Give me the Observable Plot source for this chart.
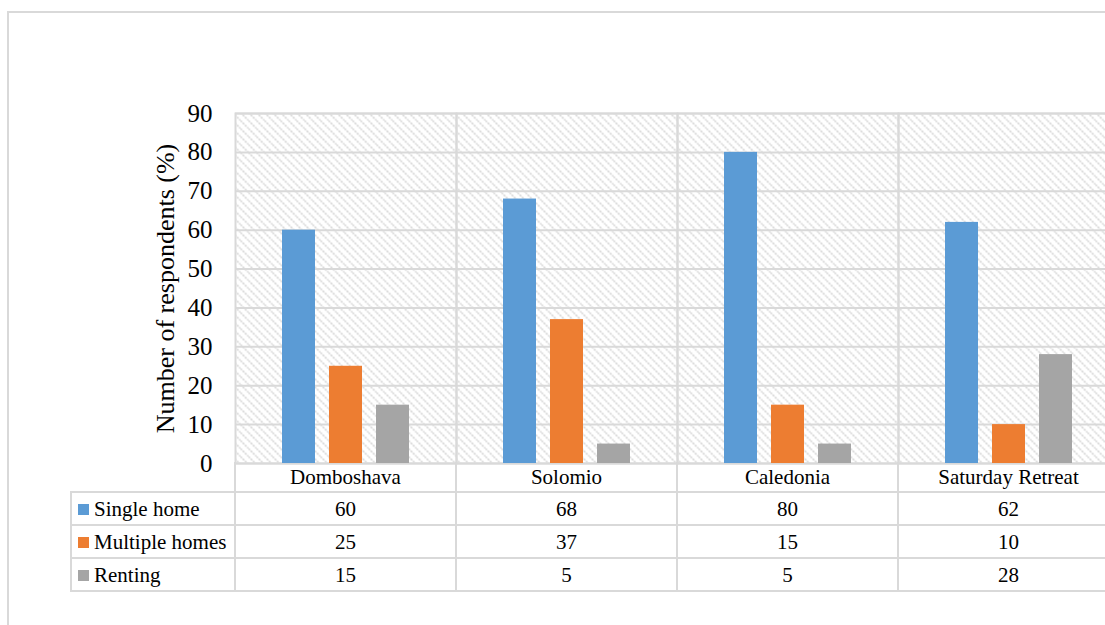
<!DOCTYPE html>
<html>
<head>
<meta charset="utf-8">
<script src="https://cdn.jsdelivr.net/npm/d3@7"></script>
<script src="https://cdn.jsdelivr.net/npm/@observablehq/plot@0.6"></script>
<style>
  html, body { margin: 0; padding: 0; background: #fff; overflow: hidden; width: 1105px; height: 625px; }
  #wrap { position: relative; width: 1105px; height: 625px; overflow: hidden; font-family: "Liberation Serif", "Times New Roman", serif; }
  #border { position: absolute; left: 7px; top: 11px; width: 1200px; height: 700px; border: 2px solid #d9d9d9; box-sizing: border-box; }
  #chart { position: absolute; left: 0; top: 0; }
  #chart svg { max-width: none !important; }
  table.dt { position: absolute; border-collapse: collapse; table-layout: fixed; font-family: "Liberation Serif", "Times New Roman", serif; font-size: 21px; color: #000; }
  table.dt td { border: 2px solid #d9d9d9; text-align: center; padding: 2px 0 0 0; white-space: nowrap; overflow: hidden; line-height: 1; }
  table.dt tr.head td { height: 27px; border-top: none; }
  table.dt tr.head td.corner { border-left: none; }
  table.dt tr.row td { height: 29px; }
  table.dt td.lab { text-align: left; padding-left: 6px; }
  .key { display: inline-block; width: 11px; height: 11px; margin-right: 5px; vertical-align: 1px; }
</style>
</head>
<body>
<div id="wrap">
  <div id="border"></div>
  <div id="chart"></div>
</div>
<script>
const categories = ["Domboshava", "Solomio", "Caledonia", "Saturday Retreat"];
const series = ["Single home", "Multiple homes", "Renting"];
const singleHome = [60, 68, 80, 62];
const multipleHomes = [25, 37, 15, 10];
const renting = [15, 5, 5, 28];
const colors = ["#5B9BD5", "#ED7D31", "#A5A5A5"];
const yTicks = [0, 10, 20, 30, 40, 50, 60, 70, 80, 90];
const yLabel = "Number of respondents (%)";

const seriesValues = [singleHome, multipleHomes, renting];
const data = [];
categories.forEach((c, i) => {
  series.forEach((s, j) => data.push({category: c, series: s, value: seriesValues[j][i]}));
});

const W = 1119, H = 625;
const plot = Plot.plot({
  width: W,
  height: H,
  marginLeft: 235,
  marginRight: 0,
  marginTop: 113,
  marginBottom: 162,
  style: {fontFamily: "'Liberation Serif', 'Times New Roman', serif", fontSize: "25px", color: "#000", background: "transparent", maxWidth: "none"},
  fx: {domain: categories, padding: 0, axis: null},
  x: {domain: series, paddingInner: 0.29, paddingOuter: 0.95, axis: null},
  y: {domain: [0, 90], ticks: yTicks, tickSize: 0, tickPadding: 23, tickFormat: d => String(d), label: null},
  color: {domain: series, range: colors},
  marks: [
    Plot.frame({fill: "url(#hatch)", stroke: "none"}),
    Plot.gridY(yTicks, {stroke: "#d9d9d9", strokeOpacity: 1, strokeWidth: 2}),
    Plot.frame({stroke: "#d9d9d9", strokeWidth: 2}),
    Plot.barY(data, {fx: "category", x: "series", y: "value", fill: "series"}),
    Plot.text([categories[0]], {fx: d => d, text: () => yLabel, frameAnchor: "left", textAnchor: "middle", rotate: -90, dx: -70, fontSize: 26, fill: "#000"})
  ]
});
plot.style.maxWidth = "none";

// hatch pattern
const svg = d3.select(plot);
const defs = svg.insert("defs", ":first-child");
const pat = defs.append("pattern").attr("id", "hatch").attr("patternUnits", "userSpaceOnUse")
  .attr("width", 8).attr("height", 8);
pat.append("rect").attr("width", 8).attr("height", 8).attr("fill", "#fff");
pat.append("path").attr("d", "M0,0L8,8M-4,4L0,8M4,-4L12,4M4,-4L8,0")
  .attr("stroke", "#cfcfcf").attr("stroke-width", 1.5).attr("stroke-dasharray", "2,1.2").attr("fill", "none");

document.getElementById("chart").appendChild(plot);

// data table below the plot, columns aligned with the fx scale
const fx = plot.scale("fx");
const colW = fx.step;
const labelLeft = 71;
const labelW = 235 - labelLeft;
const table = document.createElement("table");
table.className = "dt";
table.style.left = (labelLeft - 1) + "px";
table.style.top = (H - 162 - 1) + "px";
table.style.width = (labelW + colW * categories.length) + "px";
const colgroup = document.createElement("colgroup");
[labelW, ...categories.map(() => colW)].forEach(w => {
  const col = document.createElement("col");
  col.style.width = w + "px";
  colgroup.appendChild(col);
});
table.appendChild(colgroup);
const head = document.createElement("tr");
head.className = "head";
const corner = document.createElement("td");
corner.className = "corner";
head.appendChild(corner);
categories.forEach(c => {
  const td = document.createElement("td");
  td.textContent = c;
  head.appendChild(td);
});
table.appendChild(head);
series.forEach((s, j) => {
  const tr = document.createElement("tr");
  tr.className = "row";
  const lab = document.createElement("td");
  lab.className = "lab";
  const key = document.createElement("span");
  key.className = "key";
  key.style.background = colors[j];
  lab.appendChild(key);
  lab.appendChild(document.createTextNode(s));
  tr.appendChild(lab);
  seriesValues[j].forEach(v => {
    const td = document.createElement("td");
    td.textContent = v;
    tr.appendChild(td);
  });
  table.appendChild(tr);
});
document.getElementById("wrap").appendChild(table);
</script>
</body>
</html>
